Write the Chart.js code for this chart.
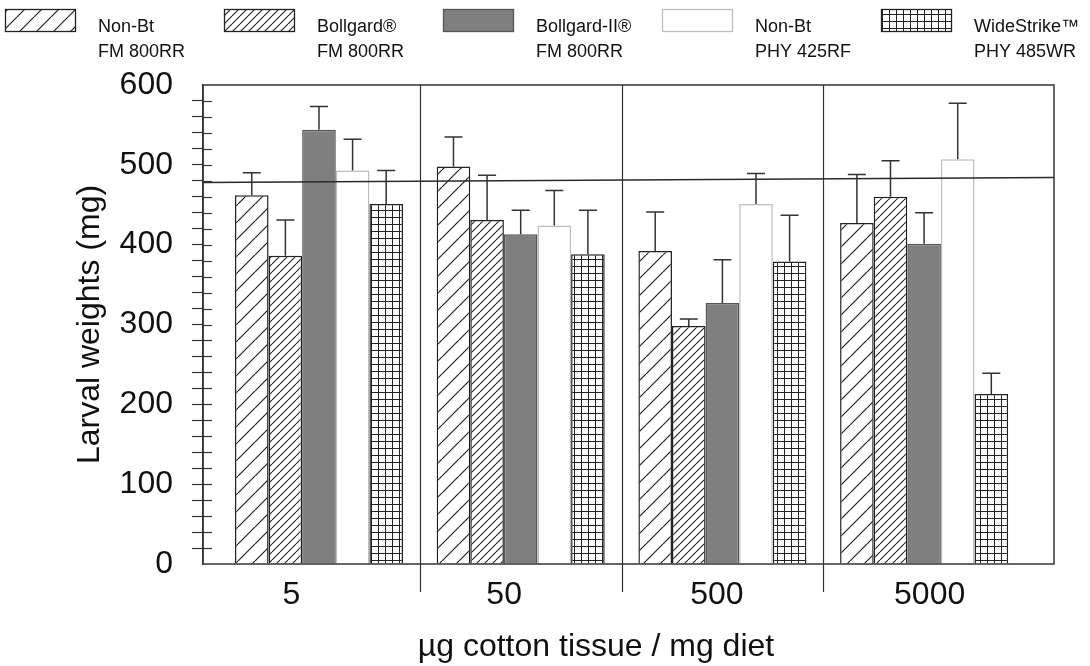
<!DOCTYPE html>
<html>
<head>
<meta charset="utf-8">
<script src="https://cdn.jsdelivr.net/npm/chart.js@4.4.1/dist/chart.umd.min.js"></script>
<style>
  html, body { margin: 0; background: #fff; }
</style>
</head>
<body>
<canvas id="larval" width="1090" height="666"></canvas>
<script>
// diet concentrations (µg cotton tissue / mg diet)
const doses = ['5', '50', '500', '5000'];

// cotton lines, shown as two-line legend entries
const traits = ['Non-Bt', 'Bollgard®', 'Bollgard-II®', 'Non-Bt', 'WideStrike™'];
const cultivars = ['FM 800RR', 'FM 800RR', 'FM 800RR', 'PHY 425RF', 'PHY 485WR'];

// mean larval weights (mg) and standard errors, one value per dose
const nonBtFM = [462, 498, 392, 427];
const nonBtFMErr = [28, 37, 49, 61];
const bollgardFM = [386, 431, 298, 460];
const bollgardFMErr = [45, 56, 9, 45];
const bollgard2FM = [544, 413, 327, 401];
const bollgard2FMErr = [29, 30, 54, 39];
const nonBtPHY = [493, 424, 451, 507];
const nonBtPHYErr = [39, 44, 38, 70];
const wideStrikePHY = [451, 388, 379, 213];
const wideStrikePHYErr = [42, 55, 58, 26];

// reference line, value at left and right end of the plot
const refLine = [478, 484];

const yMax = 600;
const yStep = 20;
const yLabelStep = 100;

const FONT = '"Liberation Sans", Arial, sans-serif';
const INK = '#111';

const canvas = document.getElementById('larval');
const ctx2d = canvas.getContext('2d');

function hatch(size, width) {
    const c = document.createElement('canvas');
    c.width = c.height = size;
    const g = c.getContext('2d');
    g.fillStyle = '#fff';
    g.fillRect(0, 0, size, size);
    g.strokeStyle = '#222';
    g.lineWidth = width;
    g.beginPath();
    for (const o of [-size, 0, size]) {
        g.moveTo(o, size);
        g.lineTo(o + size, 0);
    }
    g.stroke();
    return ctx2d.createPattern(c, 'repeat');
}

function grid(size) {
    const c = document.createElement('canvas');
    c.width = c.height = size;
    const g = c.getContext('2d');
    g.fillStyle = '#fff';
    g.fillRect(0, 0, size, size);
    g.fillStyle = '#222';
    g.fillRect(0, 0, size, 1);
    g.fillRect(0, 0, 1, size);
    return ctx2d.createPattern(c, 'repeat');
}

const series = [
    { mean: nonBtFM, err: nonBtFMErr, fill: hatch(17, 1.2), edge: '#222' },
    { mean: bollgardFM, err: bollgardFMErr, fill: hatch(8, 1.1), edge: '#222' },
    { mean: bollgard2FM, err: bollgard2FMErr, fill: '#7f7f7f', edge: '#555' },
    { mean: nonBtPHY, err: nonBtPHYErr, fill: '#fff', edge: '#bdbdbd' },
    { mean: wideStrikePHY, err: wideStrikePHYErr, fill: grid(7), edge: '#222' }
];

// bar groups sit at 0..3, the frame runs a bit past them on both sides
const xMin = -0.575;
const xMax = 3.644;

const decor = {
    id: 'decor',
    afterDatasetsDraw(chart) {
        const { ctx, chartArea: a, scales: { x, y } } = chart;
        ctx.save();
        ctx.strokeStyle = '#333';
        ctx.lineWidth = 1.5;

        // upper error bars
        chart.data.datasets.forEach((ds, i) => {
            if (!ds.err) return;
            chart.getDatasetMeta(i).data.forEach((bar, j) => {
                const top = y.getPixelForValue(ds.data[j].y + ds.err[j]);
                ctx.beginPath();
                ctx.moveTo(bar.x, bar.y);
                ctx.lineTo(bar.x, top);
                ctx.moveTo(bar.x - 9, top);
                ctx.lineTo(bar.x + 9, top);
                ctx.stroke();
            });
        });

        // frame
        ctx.strokeRect(a.left, a.top, a.width, a.height);

        // dose separators, running below the axis
        ctx.lineWidth = 1.2;
        for (let i = 0; i < doses.length - 1; i++) {
            const px = Math.round(x.getPixelForValue(i + 0.5)) + 0.5;
            ctx.beginPath();
            ctx.moveTo(px, a.top);
            ctx.lineTo(px, a.bottom + 28);
            ctx.stroke();
        }

        // inner half of the y ticks
        for (let v = yStep; v < yMax; v += yStep) {
            const py = Math.round(y.getPixelForValue(v)) + 0.5;
            ctx.beginPath();
            ctx.moveTo(a.left, py);
            ctx.lineTo(a.left + 9, py);
            ctx.stroke();
        }
        ctx.restore();
    },
    afterDraw(chart) {
        const { ctx, chartArea: a } = chart;
        ctx.save();
        ctx.fillStyle = INK;

        // x axis title
        ctx.font = '32px ' + FONT;
        ctx.textAlign = 'center';
        ctx.textBaseline = 'alphabetic';
        ctx.fillText('µg cotton tissue / mg diet', a.left + 393, 656);

        // legend
        ctx.font = '18px ' + FONT;
        ctx.textAlign = 'left';
        chart.data.datasets.forEach((ds, i) => {
            if (!ds.err) return;
            const k = i - 1;
            const bx = 5 + k * 219;
            ctx.fillStyle = ds.backgroundColor;
            ctx.fillRect(bx, 9, 70, 22);
            ctx.strokeStyle = ds.borderColor;
            ctx.lineWidth = 1.3;
            ctx.strokeRect(bx + 0.5, 9.5, 70, 22);
            ctx.fillStyle = INK;
            ctx.fillText(traits[k], bx + 93, 32);
            ctx.fillText(cultivars[k], bx + 93, 57);
        });
        ctx.restore();
    }
};

new Chart(canvas, {
    type: 'bar',
    data: {
        datasets: [
            {
                type: 'line',
                label: 'reference',
                data: [{ x: xMin, y: refLine[0] }, { x: xMax, y: refLine[1] }],
                borderColor: '#2a2a2a',
                borderWidth: 1.5,
                pointRadius: 0,
                xAxisID: 'x',
                order: 0
            },
            ...series.map((s, i) => ({
                label: traits[i] + ' ' + cultivars[i],
                data: s.mean.map((v, j) => ({ x: j, y: v })),
                err: s.err,
                backgroundColor: s.fill,
                borderColor: s.edge,
                borderWidth: 1.5,
                xAxisID: 'x',
                order: 1,
                categoryPercentage: 0.833,
                barPercentage: 1
            }))
        ]
    },
    options: {
        responsive: false,
        animation: false,
        events: [],
        layout: {
            padding: { top: 85, right: 36, bottom: 0, left: 0 }
        },
        plugins: {
            legend: { display: false },
            tooltip: { enabled: false }
        },
        scales: {
            x: {
                type: 'linear',
                display: false,
                offset: false,
                min: xMin,
                max: xMax,
                afterBuildTicks: s => { s.ticks = doses.map((d, i) => ({ value: i })); }
            },
            xc: {
                type: 'category',
                labels: doses,
                position: 'bottom',
                offset: true,
                grid: { display: false, drawTicks: false },
                border: { display: false },
                ticks: {
                    font: { family: FONT, size: 32 },
                    color: INK,
                    padding: 12,
                    labelOffset: -18
                },
                afterFit: s => { s.height = 102; }
            },
            y: {
                min: 0,
                max: yMax,
                position: 'left',
                ticks: {
                    stepSize: yStep,
                    autoSkip: false,
                    callback: v => (v % yLabelStep === 0 ? v : ''),
                    font: { family: FONT, size: 32 },
                    color: INK,
                    padding: 19
                },
                grid: {
                    drawOnChartArea: false,
                    tickLength: 11,
                    tickWidth: 1.2,
                    tickColor: c => (c.tick && c.tick.value % yMax !== 0 ? '#333' : 'rgba(0,0,0,0)')
                },
                border: { color: '#333', width: 1.5 },
                title: {
                    display: true,
                    text: 'Larval weights (mg)',
                    font: { family: FONT, size: 32 },
                    color: INK,
                    padding: { top: 71 }
                },
                afterFit: s => { s.width = 203; }
            }
        }
    },
    plugins: [decor]
});
</script>
</body>
</html>
